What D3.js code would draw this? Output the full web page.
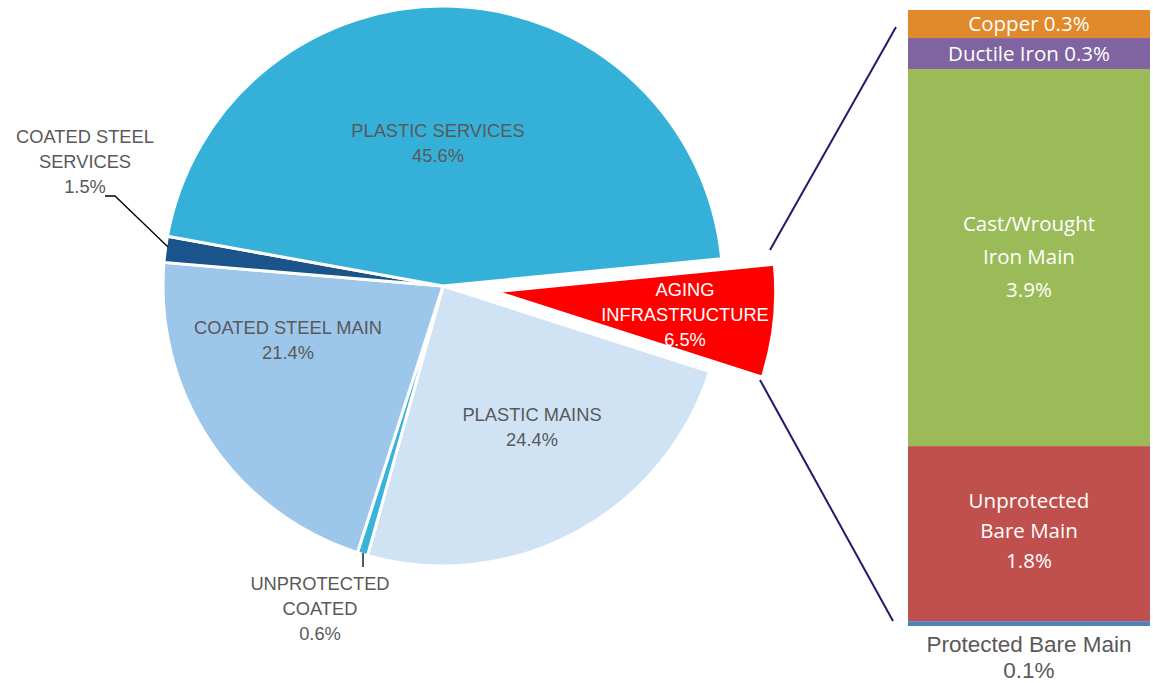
<!DOCTYPE html>
<html>
<head>
<meta charset="utf-8">
<script src="https://cdn.jsdelivr.net/npm/d3@7"></script>
<style>
  body { margin: 0; background: #fff; }
  svg { display: block; }
</style>
</head>
<body>
<div id="chart"></div>
<script>
var width = 1153, height = 683;

// main pie
var pieNames = ['AGING INFRASTRUCTURE', 'PLASTIC MAINS', 'UNPROTECTED COATED', 'COATED STEEL MAIN', 'COATED STEEL SERVICES', 'PLASTIC SERVICES'];
var pieValues = [6.5, 24.4, 0.6, 21.4, 1.5, 45.6];
var pieColors = ['#FF0000', '#CFE3F5', '#38B3DB', '#9DC6EB', '#1B548A', '#35B1D9'];

// bar of aging infrastructure (top to bottom)
var barNames = ['Copper', 'Ductile Iron', 'Cast/Wrought Iron Main', 'Unprotected Bare Main', 'Protected Bare Main'];
var barValues = [0.29, 0.32, 3.9, 1.81, 0.05];
var barLabels = ['0.3%', '0.3%', '3.9%', '1.8%', '0.1%'];
var barColors = ['#E08A2C', '#8064A2', '#9BBB59', '#C0504D', '#4F81BD'];

var cx = 443, cy = 286, radius = 280, explode = 53;
var startDeg = 84.4;

var svg = d3.select("#chart")
  .append("svg")
    .attr("width", width)
    .attr("height", height);

var pie = d3.pie()
  .sort(null)
  .value(function(d) { return d; })
  .startAngle(startDeg * Math.PI / 180)
  .endAngle(startDeg * Math.PI / 180 + 2 * Math.PI);

var arcs = pie(pieValues);

var arc = d3.arc().innerRadius(0).outerRadius(radius);

function offsetOf(d, i) {
  if (i != 0) return [0, 0];
  var a = (d.startAngle + d.endAngle) / 2;
  return [explode * Math.sin(a), -explode * Math.cos(a)];
}

var g = svg.append("g")
  .attr("transform", "translate(" + cx + "," + cy + ")");

g.selectAll("path.slice")
  .data(arcs)
  .enter()
  .append("path")
    .attr("class", "slice")
    .attr("transform", function(d, i) { var o = offsetOf(d, i); return "translate(" + o[0] + "," + o[1] + ")"; })
    .attr("d", arc)
    .style("fill", function(d, i) { return pieColors[i]; })
    .style("stroke", "#fff")
    .style("stroke-width", 3)
    .style("stroke-linejoin", "miter");

// pie labels
var labelFont = "'Liberation Sans', Arial, sans-serif";
var pieLabelPos = [
  {x: 685, y: 290, lines: ['AGING', 'INFRASTRUCTURE'], fill: '#fff'},
  {x: 532, y: 415, lines: ['PLASTIC MAINS'], fill: '#595959'},
  {x: 320, y: 584, lines: ['UNPROTECTED', 'COATED'], fill: '#595959'},
  {x: 288, y: 328, lines: ['COATED STEEL MAIN'], fill: '#595959'},
  {x: 85, y: 137, lines: ['COATED STEEL', 'SERVICES'], fill: '#595959'},
  {x: 438, y: 131, lines: ['PLASTIC SERVICES'], fill: '#595959'}
];

pieLabelPos.forEach(function(p, i) {
  var t = svg.append("text")
    .attr("x", p.x)
    .attr("y", p.y)
    .attr("text-anchor", "middle")
    .style("font-family", labelFont)
    .style("font-size", "18.3px")
    .style("fill", p.fill);
  var lines = p.lines.concat([d3.format(".1f")(pieValues[i]) + '%']);
  lines.forEach(function(l, j) {
    t.append("tspan")
      .attr("x", p.x)
      .attr("y", p.y + j * 25)
      .attr("dy", "0.35em")
      .text(l);
  });
});

// leader lines
svg.append("path")
  .attr("d", "M105,196 L115,196 L168,247")
  .style("fill", "none")
  .style("stroke", "#000")
  .style("stroke-width", 1.3);

svg.append("line")
  .attr("x1", 363).attr("y1", 553)
  .attr("x2", 363).attr("y2", 567)
  .style("stroke", "#000")
  .style("stroke-width", 1.3);

// bar
var barX = 908, barW = 242, barTop = 10, barBottom = 626;
var y = d3.scaleLinear()
  .domain([0, d3.sum(barValues)])
  .range([barTop, barBottom]);

var cum = 0;
var barData = barValues.map(function(v, i) {
  var d = {y0: cum, y1: cum + v, i: i};
  cum += v;
  return d;
});

svg.selectAll("rect.bar")
  .data(barData)
  .enter()
  .append("rect")
    .attr("class", "bar")
    .attr("x", barX)
    .attr("y", function(d) { return y(d.y0); })
    .attr("width", barW)
    .attr("height", function(d) { return y(d.y1) - y(d.y0); })
    .style("fill", function(d) { return barColors[d.i]; });

var barFont = "'Open Sans', 'Noto Sans', sans-serif";
var barText = [
  {lines: ['Copper ' + barLabels[0]], y: 24, fill: '#fff'},
  {lines: ['Ductile Iron ' + barLabels[1]], y: 54, fill: '#fff'},
  {lines: ['Cast/Wrought', 'Iron Main', barLabels[2]], y: 224, fill: '#fff', step: 33},
  {lines: ['Unprotected', 'Bare Main', barLabels[3]], y: 501, fill: '#fff', step: 30},
  {lines: ['Protected Bare Main', barLabels[4]], y: 644, fill: '#595959', step: 26, font: labelFont, size: '22.5px'}
];

barText.forEach(function(b) {
  var t = svg.append("text")
    .attr("text-anchor", "middle")
    .style("font-family", b.font || barFont)
    .style("font-size", b.size || "20.5px")
    .style("fill", b.fill);
  b.lines.forEach(function(l, j) {
    t.append("tspan")
      .attr("x", barX + barW / 2)
      .attr("y", b.y + j * (b.step || 0))
      .attr("dy", "0.35em")
      .text(l);
  });
});

// connector lines from aging slice to bar
svg.append("line")
  .attr("x1", 770).attr("y1", 250)
  .attr("x2", 896).attr("y2", 27)
  .style("stroke", "#1F1B6B")
  .style("stroke-width", 2);

svg.append("line")
  .attr("x1", 760).attr("y1", 380)
  .attr("x2", 893).attr("y2", 621)
  .style("stroke", "#1F1B6B")
  .style("stroke-width", 2);
</script>
</body>
</html>
